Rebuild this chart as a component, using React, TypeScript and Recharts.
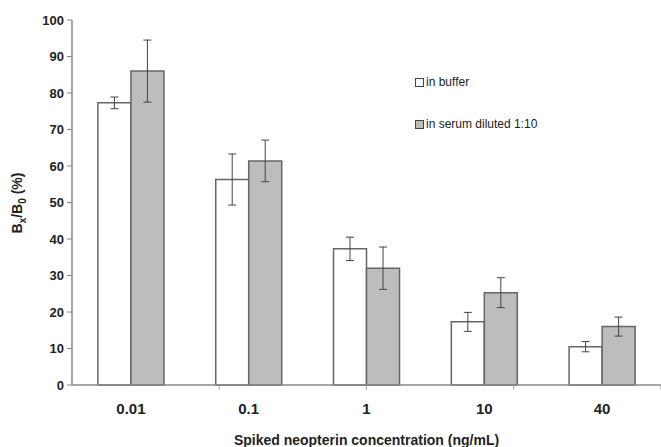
import React from 'react';
import { BarChart, Bar, XAxis, YAxis, ErrorBar, ReferenceLine } from 'recharts';

const categories = ['0.01', '0.1', '1', '10', '40'];
const bufferValues = [77.3, 56.3, 37.3, 17.3, 10.5];
const bufferErrors = [1.6, 7.0, 3.2, 2.6, 1.4];
const serumValues = [86.0, 61.4, 32.0, 25.3, 16.0];
const serumErrors = [8.5, 5.7, 5.8, 4.1, 2.6];
const yTicks = [0, 10, 20, 30, 40, 50, 60, 70, 80, 90, 100];
const separatorTicks = [1, 2, 3, 4, 5];

const data = categories.map((c, i) => ({
  name: c,
  buffer: bufferValues[i],
  bufferErr: bufferErrors[i],
  serum: serumValues[i],
  serumErr: serumErrors[i],
}));

const FONT = '"Liberation Sans", Arial, sans-serif';

const LegendBox = () => (
  <div style={{ position: 'absolute', left: 415, top: 73, fontFamily: FONT, fontSize: 12, color: '#222' }}>
    <div style={{ display: 'flex', alignItems: 'center', height: 18 }}>
      <span style={{ width: 7, height: 7, border: '1.5px solid #444', background: '#fff', marginRight: 2 }} />
      in buffer
    </div>
    <div style={{ display: 'flex', alignItems: 'center', height: 18, marginTop: 24 }}>
      <span style={{ width: 7, height: 7, border: '1.5px solid #444', background: '#bdbdbd', marginRight: 2 }} />
      in serum diluted 1:10
    </div>
  </div>
);

const YLabel = () => (
  <text
    x={22}
    y={203}
    transform="rotate(-90, 22, 203)"
    textAnchor="middle"
    fontFamily={FONT}
    fontSize={14}
    fontWeight="bold"
    fill="#222"
  >
    B<tspan fontSize={10} dy={4}>x</tspan>
    <tspan dy={-4}>/B</tspan>
    <tspan fontSize={10} dy={4}>0</tspan>
    <tspan dy={-4}> (%)</tspan>
  </text>
);

export default function App() {
  return (
    <div style={{ position: 'absolute', left: 0, top: 0, width: 661, height: 447, background: '#fff' }}>
      <BarChart
        width={661}
        height={447}
        data={data}
        margin={{ top: 20, right: 0, left: 0, bottom: 0 }}
        barCategoryGap="22%"
        barGap={0}
      >
        <XAxis xAxisId="sep" type="number" domain={[0, 5]} height={0} hide />
        <XAxis
          dataKey="name"
          height={62}
          axisLine={{ stroke: '#888', strokeWidth: 1.5 }}
          tickLine={false}
          tickMargin={12}
          tick={{ fontFamily: FONT, fontSize: 15, fontWeight: 'bold', fill: '#222' }}
          label={{
            value: 'Spiked neopterin concentration (ng/mL)',
            position: 'insideBottom',
            offset: 0,
            dy: -2,
            style: { fontFamily: FONT, fontSize: 14, fontWeight: 'bold', fill: '#222' },
          }}
        />
        <YAxis
          width={72}
          domain={[0, 100]}
          ticks={yTicks}
          interval={0}
          axisLine={{ stroke: '#888', strokeWidth: 1.5 }}
          tickLine={{ stroke: '#888' }}
          tickSize={5}
          tickMargin={3}
          tick={{ fontFamily: FONT, fontSize: 13, fontWeight: 'bold', fill: '#222' }}
          label={{ content: () => <YLabel /> }}
        />
        {separatorTicks.map((t) => (
          <ReferenceLine
            key={t}
            xAxisId="sep"
            segment={[{ x: t, y: 0 }, { x: t, y: -1.2 }]}
            stroke="#999"
            ifOverflow="visible"
          />
        ))}
        <Bar dataKey="buffer" name="in buffer" fill="#ffffff" stroke="#666" strokeWidth={1.5} isAnimationActive={false}>
          <ErrorBar dataKey="bufferErr" width={4} stroke="#444" strokeWidth={1} />
        </Bar>
        <Bar dataKey="serum" name="in serum diluted 1:10" fill="#bdbdbd" stroke="#666" strokeWidth={1.5} isAnimationActive={false}>
          <ErrorBar dataKey="serumErr" width={4} stroke="#444" strokeWidth={1} />
        </Bar>
      </BarChart>
      <LegendBox />
    </div>
  );
}
